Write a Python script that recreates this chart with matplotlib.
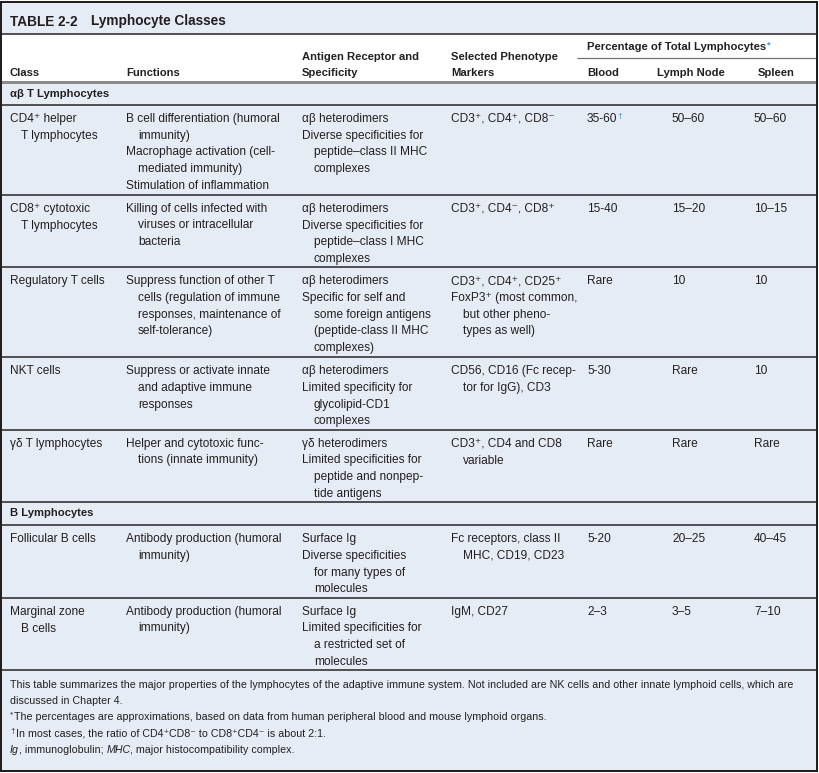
import matplotlib
matplotlib.use('Agg')
import matplotlib.pyplot as plt
from matplotlib import font_manager as fm
from matplotlib.patches import Rectangle

# ===================== 数据 =====================
title_no = 'TABLE 2-2'
title_name = 'Lymphocyte Classes'

headers = ['Class', 'Functions', 'Antigen Receptor and\nSpecificity', 'Selected Phenotype\nMarkers']
pct_header = 'Percentage of Total Lymphocytes'
pct_cols = ['Blood', 'Lymph Node', 'Spleen']

sections = ['αβ T Lymphocytes', 'B Lymphocytes']
row_section = [0, 0, 0, 0, 0, 1, 1]

# '>' = hanging indent line
classes = [
    'CD4⁺ helper\n>T lymphocytes',
    'CD8⁺ cytotoxic\n>T lymphocytes',
    'Regulatory T cells',
    'NKT cells',
    'γδ T lymphocytes',
    'Follicular B cells',
    'Marginal zone\n>B cells',
]
functions = [
    'B cell differentiation (humoral\n>immunity)\nMacrophage activation (cell-\n>mediated immunity)\nStimulation of inflammation',
    'Killing of cells infected with\n>viruses or intracellular\n>bacteria',
    'Suppress function of other T\n>cells (regulation of immune\n>responses, maintenance of\n>self-tolerance)',
    'Suppress or activate innate\n>and adaptive immune\n>responses',
    'Helper and cytotoxic func-\n>tions (innate immunity)',
    'Antibody production (humoral\n>immunity)',
    'Antibody production (humoral\n>immunity)',
]
receptors = [
    'αβ heterodimers\nDiverse specificities for\n>peptide–class II MHC\n>complexes',
    'αβ heterodimers\nDiverse specificities for\n>peptide–class I MHC\n>complexes',
    'αβ heterodimers\nSpecific for self and\n>some foreign antigens\n>(peptide-class II MHC\n>complexes)',
    'αβ heterodimers\nLimited specificity for\n>glycolipid-CD1\n>complexes',
    'γδ heterodimers\nLimited specificities for\n>peptide and nonpep-\n>tide antigens',
    'Surface Ig\nDiverse specificities\n>for many types of\n>molecules',
    'Surface Ig\nLimited specificities for\n>a restricted set of\n>molecules',
]
markers = [
    'CD3⁺, CD4⁺, CD8⁻',
    'CD3⁺, CD4⁻, CD8⁺',
    'CD3⁺, CD4⁺, CD25⁺\nFoxP3⁺ (most common,\n>but other pheno-\n>types as well)',
    'CD56, CD16 (Fc recep-\n>tor for IgG), CD3',
    'CD3⁺, CD4 and CD8\n>variable',
    'Fc receptors, class II\n>MHC, CD19, CD23',
    'IgM, CD27',
]
blood = ['35-60', '15-40', 'Rare', '5-30', 'Rare', '5-20', '2–3']
blood_marks = ['†', '', '', '', '', '', '']
lymph_node = ['50–60', '15–20', '10', 'Rare', 'Rare', '20–25', '3–5']
spleen = ['50–60', '10–15', '10', '10', 'Rare', '40–45', '7–10']

# footnotes: (text, style, superscript?)
footnotes = [
    [('This table summarizes the major properties of the lymphocytes of the adaptive immune system. '
      'Not included are NK cells and other innate lymphoid cells, which are', 'normal', False)],
    [('discussed in Chapter 4.', 'normal', False)],
    [('*', 'normal', True), ('The percentages are approximations, based on data from human peripheral blood and mouse lymphoid organs.', 'normal', False)],
    [('†', 'normal', True), ('In most cases, the ratio of CD4⁺CD8⁻ to CD8⁺CD4⁻ is about 2:1.', 'normal', False)],
    [('Ig', 'italic', False), (', immunoglobulin; ', 'normal', False), ('MHC', 'italic', False),
     (', major histocompatibility complex.', 'normal', False)],
]

# ===================== 样式 =====================
W, H = 819, 773
BG = '#e6ecf6'
INK = '#231f20'
BLUE = '#2e9ad8'
GRAY = '#8a8a8a'

installed = {f.name for f in fm.fontManager.ttflist}
BODY = [f for f in ['Liberation Sans', 'Arimo'] if f in installed] + ['DejaVu Sans']
TITLE = [f for f in ['Liberation Sans Narrow', 'Liberation Sans'] if f in installed] + ['DejaVu Sans']
narrow_title = 'Liberation Sans Narrow' in installed


def pt(px):
    return px * 0.72


BODY_SIZE = pt(11.9)
HEAD_SIZE = pt(11.2)
FOOT_SIZE = pt(10.6)
TITLE_SIZE = pt(15.0) if narrow_title else pt(13.6)
LINE = 16.7
INDENT = 12

COL_X = [10, 126, 302, 451]
PCT_X = [587, 672, 754]
PCT_HEAD_X = [587, 657, 758]

fig = plt.figure(figsize=(W / 100, H / 100), dpi=100)
ax = fig.add_axes([0, 0, 1, 1])
ax.set_xlim(0, W)
ax.set_ylim(H, 0)
ax.axis('off')

LEFT, RIGHT, TOP, BOTTOM = 1, 817, 2, 771


def hline(y, lw=1.5, color=INK, x0=LEFT, x1=RIGHT):
    ax.plot([x0, x1], [y, y], color=color, lw=pt(lw), solid_capstyle='butt', zorder=3)


def txt(x, y, s, size=BODY_SIZE, weight='normal', family=None, **kw):
    return ax.text(x, y, s, fontsize=size, fontweight=weight, family=family or BODY,
                   color=kw.pop('color', INK), va='baseline', ha='left', **kw)


def cell(x, y, text, size=BODY_SIZE, indent=INDENT):
    for i, line in enumerate(text.split('\n')):
        dx = indent if line.startswith('>') else 0
        txt(x + dx, y + i * LINE, line.lstrip('>'), size=size)


# background
ax.add_patch(Rectangle((LEFT, TOP), RIGHT - LEFT, BOTTOM - TOP, facecolor=BG, edgecolor='none', zorder=0))
TITLE_BOT = 34
HEAD_BOT = 81.5
ax.add_patch(Rectangle((LEFT, TITLE_BOT), RIGHT - LEFT, HEAD_BOT - TITLE_BOT, facecolor='white',
                       edgecolor='none', zorder=1))

# title
txt(10, 25.5, title_no, size=TITLE_SIZE, weight='bold', family=TITLE)
txt(91, 25.5, title_name, size=TITLE_SIZE, weight='bold', family=TITLE)
hline(TITLE_BOT)

# header
for x, h in zip(COL_X, headers):
    parts = h.split('\n')
    for j, p in enumerate(parts):
        txt(x, 75.5 - (len(parts) - 1 - j) * 16, p, size=HEAD_SIZE, weight='bold')
ph = txt(PCT_HEAD_X[0], 49.5, pct_header, size=HEAD_SIZE, weight='bold')
ax.annotate('*', xy=(1, 1), xycoords=ph, xytext=(0.3, 1), textcoords='offset points',
            fontsize=pt(9), color=BLUE, family=BODY, va='top', ha='left', fontweight='bold')
hline(58, lw=1.2, color='#6d6d6d', x0=577)
for x, h in zip(PCT_HEAD_X, pct_cols):
    txt(x, 75.5, h, size=HEAD_SIZE, weight='bold')
hline(HEAD_BOT + 0.3, lw=3, color=GRAY)

# body rows
SEC_H = 21.5
y = HEAD_BOT + 1.8
cur_sec = -1
for i in range(len(classes)):
    if row_section[i] != cur_sec:
        cur_sec = row_section[i]
        txt(10, y + 13.8, sections[cur_sec], size=HEAD_SIZE, weight='bold')
        y += SEC_H if cur_sec == 0 else SEC_H + 1.5
        hline(y)
    n = max(len(c.split('\n')) for c in [classes[i], functions[i], receptors[i], markers[i]])
    base = y + 17
    cell(COL_X[0], base, classes[i], indent=11)
    cell(COL_X[1], base, functions[i])
    cell(COL_X[2], base, receptors[i])
    cell(COL_X[3], base, markers[i])
    bt = txt(PCT_X[0], base, blood[i])
    if blood_marks[i]:
        ax.annotate(blood_marks[i], xy=(1, 1), xycoords=bt, xytext=(0, 0), textcoords='offset points',
                    fontsize=pt(8.5), color=BLUE, family=BODY, va='top', ha='left')
    txt(PCT_X[1], base, lymph_node[i])
    txt(PCT_X[2], base, spleen[i])
    y += n * 17.5 + 2.5
    hline(y)

# footnotes
fig.canvas.draw()
renderer = fig.canvas.get_renderer()
inv = ax.transData.inverted()
fy = y + 17.5
for runs in footnotes:
    x = 10
    for s, style, sup in runs:
        size = FOOT_SIZE * (0.75 if sup else 1)
        t = ax.text(x, fy - (3.5 if sup else 0), s, fontsize=size, style=style, family=BODY,
                    color=INK, va='baseline', ha='left')
        bb = t.get_window_extent(renderer=renderer)
        x = inv.transform((bb.x1, bb.y0))[0] + (1 if sup else 0)
    fy += 16.2

# outer border
ax.add_patch(Rectangle((LEFT, TOP), RIGHT - LEFT, BOTTOM - TOP, facecolor='none', edgecolor=INK,
                       lw=pt(2), zorder=4))

fig.savefig('out.png', dpi=100)
